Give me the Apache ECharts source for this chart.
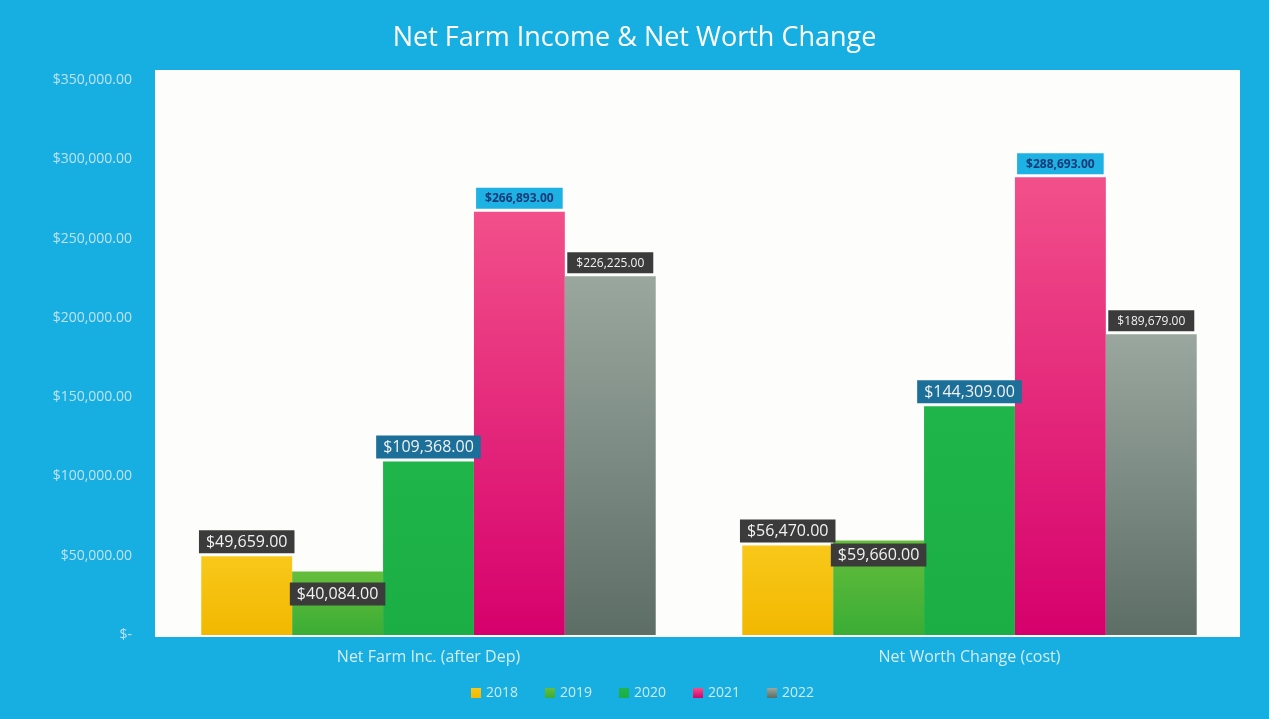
<!DOCTYPE html>
<html>
<head>
<meta charset="utf-8">
<script src="https://cdn.jsdelivr.net/npm/echarts@6/dist/echarts.min.js"></script>
<style>
  html, body { margin: 0; padding: 0; background: #17afe1; }
  #chart { width: 1269px; height: 719px; }
</style>
</head>
<body>
<div id="chart"></div>
<script>
const categories = ["Net Farm Inc. (after Dep)", "Net Worth Change (cost)"];
const years = ["2018", "2019", "2020", "2021", "2022"];
const values2018 = [49659, 56470];
const values2019 = [40084, 59660];
const values2020 = [109368, 144309];
const values2021 = [266893, 288693];
const values2022 = [226225, 189679];
const yTicks = [0, 50000, 100000, 150000, 200000, 250000, 300000, 350000];

const chart = echarts.init(document.getElementById("chart"));

const money = v => "$" + v.toLocaleString("en-US", { minimumFractionDigits: 2, maximumFractionDigits: 2 });
const font = "'Open Sans', sans-serif";

// colours per year: gradient top -> bottom, plus label box style
const styles = [
  { top: "#f8c81a", bottom: "#f2b800", box: "#3b3b3b", text: "#f2f2f2", size: 16, bold: "normal", pad: [4, 7, 3, 7] },
  { top: "#66bd3c", bottom: "#3aad35", box: "#3b3b3b", text: "#f2f2f2", size: 16, bold: "normal", pad: [4, 7, 3, 7] },
  { top: "#20b54b", bottom: "#1aae45", box: "#1b6f98", text: "#f2f2f2", size: 16, bold: "normal", pad: [4, 7, 3, 7] },
  { top: "#f2508a", bottom: "#d6006c", box: "#1eb1e3", text: "#163a78", size: 12, bold: "bold", pad: [5, 9, 4, 9] },
  { top: "#9aa79f", bottom: "#5d6e66", box: "#3b3b3b", text: "#f2f2f2", size: 12, bold: "normal", pad: [5, 9, 4, 9] }
];
const seriesValues = [values2018, values2019, values2020, values2021, values2022];

const series = years.map((y, i) => {
  const s = styles[i];
  const data = seriesValues[i].map((v, j) => {
    const item = { value: v };
    if (i === 1) {
      // 2019 labels were nudged down into the bar in the original
      item.label = { position: "insideTop", offset: [0, j === 0 ? 8 : 0] };
    }
    return item;
  });
  return {
    name: y,
    type: "bar",
    barGap: "0%",
    barCategoryGap: "16%",
    data,
    itemStyle: {
      color: new echarts.graphic.LinearGradient(0, 0, 0, 1, [
        { offset: 0, color: s.top },
        { offset: 1, color: s.bottom }
      ])
    },
    label: {
      show: true,
      position: "top",
      distance: 3,
      formatter: p => money(p.value),
      color: s.text,
      fontFamily: font,
      fontSize: s.size,
      fontWeight: s.bold,
      backgroundColor: s.box,
      padding: s.pad
    }
  };
});

chart.setOption({
  backgroundColor: "#17afe1",
  color: styles.map(s => s.bottom),
  title: {
    text: "Net Farm Income & Net Worth Change",
    left: "center",
    top: 20,
    textStyle: { color: "#ffffff", fontFamily: font, fontSize: 27, fontWeight: "normal" }
  },
  graphic: [
    { type: "rect", z: -10, silent: true, shape: { x: 155, y: 70, width: 1085, height: 567 }, style: { fill: "#fdfdfb" } }
  ],
  legend: {
    bottom: 14,
    left: 466,
    icon: "rect",
    itemWidth: 10,
    itemHeight: 10,
    itemGap: 27,
    textStyle: { color: "#cfe9f5", fontFamily: font, fontSize: 14 },
    data: years
  },
  grid: { left: 158, right: 29, top: 80, bottom: 84 },
  xAxis: {
    type: "category",
    data: categories,
    axisLine: { show: false },
    axisTick: { show: false },
    axisLabel: { color: "#d5ecf7", fontFamily: font, fontSize: 16, margin: 14 }
  },
  yAxis: {
    type: "value",
    min: yTicks[0],
    max: yTicks[yTicks.length - 1],
    interval: 50000,
    splitLine: { show: false },
    axisLine: { show: false },
    axisTick: { show: false },
    axisLabel: {
      color: "#bfe2f2",
      fontFamily: font,
      fontSize: 14,
      margin: 26,
      formatter: v => (v === 0 ? "$-" : money(v))
    }
  },
  series
});
</script>
</body>
</html>
